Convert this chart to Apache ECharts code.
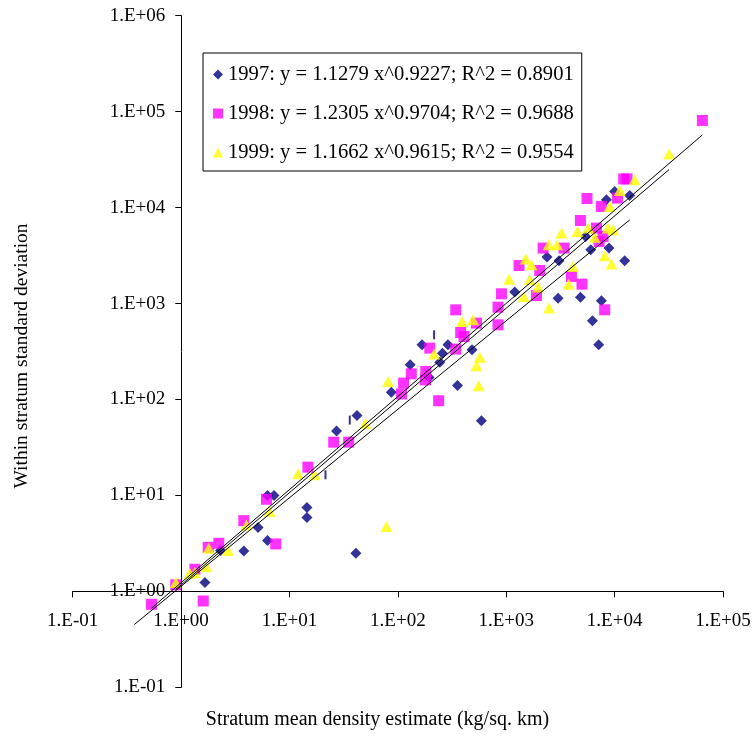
<!DOCTYPE html>
<html><head><meta charset="utf-8">
<script src="https://cdn.jsdelivr.net/npm/echarts@6/dist/echarts.min.js"></script>
<style>html,body{margin:0;padding:0;background:#fff}#c{width:755px;height:738px}</style>
</head><body><div id="c"></div>
<script>
// ---- data ----
const name1997 = '1997: y = 1.1279 x^0.9227; R^2 = 0.8901';
const name1998 = '1998: y = 1.2305 x^0.9704; R^2 = 0.9688';
const name1999 = '1999: y = 1.1662 x^0.9615; R^2 = 0.9554';

const x1997 = [1.66, 2.31, 3.79, 5.13, 6.27, 6.27, 7.2, 14.5, 14.5, 27.2, 42, 87, 130, 167, 290, 258, 244, 483, 355, 590, 41, 194, 1198, 3006, 4835, 7550, 6240, 7130, 12390, 8870, 6020, 2378, 3069, 13770, 10000, 8400, 5410];
const y1997 = [1.24, 2.66, 2.63, 4.62, 3.38, 10.0, 10.0, 7.5, 5.9, 47, 68, 119, 230, 371, 371, 304, 245, 329, 140, 60, 2.5, 169, 1315, 1138, 1166, 1067, 660, 371, 2786, 3784, 3633, 3046, 2786, 13370, 14700, 12050, 5000];

const x1997marks = [21.5, 36, 216];
const y1997marks = [16.4, 61, 472];

const x1998 = [0.533, 1.60, 0.893, 1.34, 1.78, 2.23, 3.79, 6.14, 7.47, 14.8, 25.6, 35.2, 108, 113, 133, 181, 180, 197, 238, 342, 342, 380, 408, 531, 840, 840, 903, 1312, 1900, 2040, 2188, 3414, 3992, 5000, 8100, 64560, 12130, 13000, 5560, 7550, 10620, 4835, 6790, 7820, 7190];
const y1998 = [0.733, 0.794, 1.17, 1.70, 2.88, 3.17, 5.46, 9.12, 3.12, 19.7, 35.9, 35.9, 114, 148, 185, 196, 160, 343, 97, 335, 859, 499, 453, 625, 916, 600, 1262, 2489, 1211, 2210, 3785, 3785, 1914, 1592, 860, 80900, 19900, 19900, 12440, 10280, 12560, 7340, 6110, 5000, 4436];

const x1999 = [0.893, 1.20, 1.34, 1.71, 1.80, 2.71, 4.01, 6.58, 12.0, 17.1, 50.2, 81.2, 78.5, 216, 391, 494, 570, 531, 557, 1061, 1514, 1707, 1648, 1450, 1965, 2483, 2466, 2944, 3776, 4130, 8110, 9350, 3230, 6550, 31760, 15310, 11140, 9020, 4540, 5690, 8690, 9660];
const y1999 = [1.24, 1.54, 1.57, 1.81, 2.81, 2.66, 4.92, 6.78, 16.8, 16.4, 56.6, 154, 4.73, 297, 649, 676, 276, 224, 139, 1796, 2904, 2530, 1766, 1183, 1483, 896, 4093, 4093, 1593, 2432, 3140, 2576, 5420, 4920, 36140, 19500, 15070, 10280, 5640, 6110, 6110, 5870];

// trendline end points (power fits from legend)
const trend1997X = [0.37, 13770], trend1997Y = [0.451, 7435];
const trend1998X = [0.533, 64560], trend1998Y = [0.668, 57230];
const trend1999X = [0.89, 31760], trend1999Y = [1.043, 24860];

const xMin = 0.1, xMax = 1e5, yMin = 0.1, yMax = 1e6;
const xTitle = 'Stratum mean density estimate (kg/sq. km)';
const yTitle = 'Within stratum standard deviation';

// ---- helpers ----
const zip = (a, b) => a.map((v, i) => [v, b[i]]);
const FONT = "'Liberation Serif', 'Times New Roman', serif";
function expLabel(v) {
  const e = Math.round(Math.log10(v));
  const s = String(Math.abs(e)).padStart(2, '0');
  return '1.E' + (e < 0 ? '-' : '+') + s;
}
const W = 755, H = 738;
const gx0 = 72.7, gx1 = 723, gy0 = 15.7, gy1 = 687.3;
const xAt1 = 181.3, yAt1 = 591.4;

const chart = echarts.init(document.getElementById('c'), null, {renderer: 'canvas'});
const scatterCommon = {type: 'scatter', z: 2, emphasis: {disabled: true}};
const lineCommon = {type: 'line', showSymbol: false, symbol: 'none', z: 5, silent: true,
  lineStyle: {color: '#000', width: 1}, emphasis: {disabled: true}};

chart.setOption({
  animation: false,
  backgroundColor: '#fff',
  grid: {left: gx0, right: W - gx1, top: gy0, bottom: H - gy1, containLabel: false},
  xAxis: {
    type: 'log', logBase: 10, min: xMin, max: xMax, splitNumber: 6,
    position: 'bottom', offset: -(gy1 - yAt1),
    axisLine: {show: true, lineStyle: {color: '#000', width: 1}},
    axisTick: {show: true, length: 6, inside: false, lineStyle: {color: '#000'}},
    minorTick: {show: false}, splitLine: {show: false},
    axisLabel: {formatter: expLabel, fontFamily: FONT, fontSize: 19, color: '#000', margin: 20}
  },
  yAxis: {
    type: 'log', logBase: 10, min: yMin, max: yMax, splitNumber: 7,
    position: 'left', offset: -(xAt1 - gx0),
    axisLine: {show: true, lineStyle: {color: '#000', width: 1}},
    axisTick: {show: true, length: 6, inside: false, lineStyle: {color: '#000'}},
    minorTick: {show: false}, splitLine: {show: false},
    axisLabel: {formatter: expLabel, fontFamily: FONT, fontSize: 19, color: '#000', margin: 16}
  },
  legend: {
    data: [
      {name: name1997, icon: 'diamond'},
      {name: name1998, icon: 'rect'},
      {name: name1999, icon: 'triangle'}
    ],
    orient: 'vertical', left: 203, top: 53,
    padding: [11, 8, 8, 10], itemGap: 18,
    itemWidth: 10, itemHeight: 10,
    borderColor: '#000', borderWidth: 1, backgroundColor: '#fff',
    textStyle: {fontFamily: FONT, fontSize: 20.6, color: '#000', lineHeight: 20},
    selectedMode: false
  },
  graphic: [
    {type: 'text', left: 'center', top: 710, style: {text: xTitle, fontFamily: FONT, fontSize: 20, fill: '#000'}},
    {type: 'text', x: 22, y: 356, rotation: Math.PI / 2,
      style: {text: yTitle, fontFamily: FONT, fontSize: 19.5, fill: '#000', align: 'center', verticalAlign: 'middle'}}
  ],
  series: [
    Object.assign({}, scatterCommon, {name: name1997, data: zip(x1997, y1997), symbol: 'diamond', symbolSize: 11, itemStyle: {color: '#000080'}}),
    Object.assign({}, scatterCommon, {name: '1997 marks', data: zip(x1997marks, y1997marks), symbol: 'rect', symbolSize: [2, 9], itemStyle: {color: '#000080'}}),
    Object.assign({}, scatterCommon, {name: name1998, z: 3, data: zip(x1998, y1998), symbol: 'rect', symbolSize: 11, itemStyle: {color: '#FF00FF'}}),
    Object.assign({}, scatterCommon, {name: name1999, z: 4, data: zip(x1999, y1999), symbol: 'triangle', symbolSize: [12, 11], itemStyle: {color: '#FFFF00'}}),
    Object.assign({}, lineCommon, {name: 'trend1997', data: zip(trend1997X, trend1997Y)}),
    Object.assign({}, lineCommon, {name: 'trend1998', data: zip(trend1998X, trend1998Y)}),
    Object.assign({}, lineCommon, {name: 'trend1999', data: zip(trend1999X, trend1999Y)})
  ]
});
</script>
</body></html>
